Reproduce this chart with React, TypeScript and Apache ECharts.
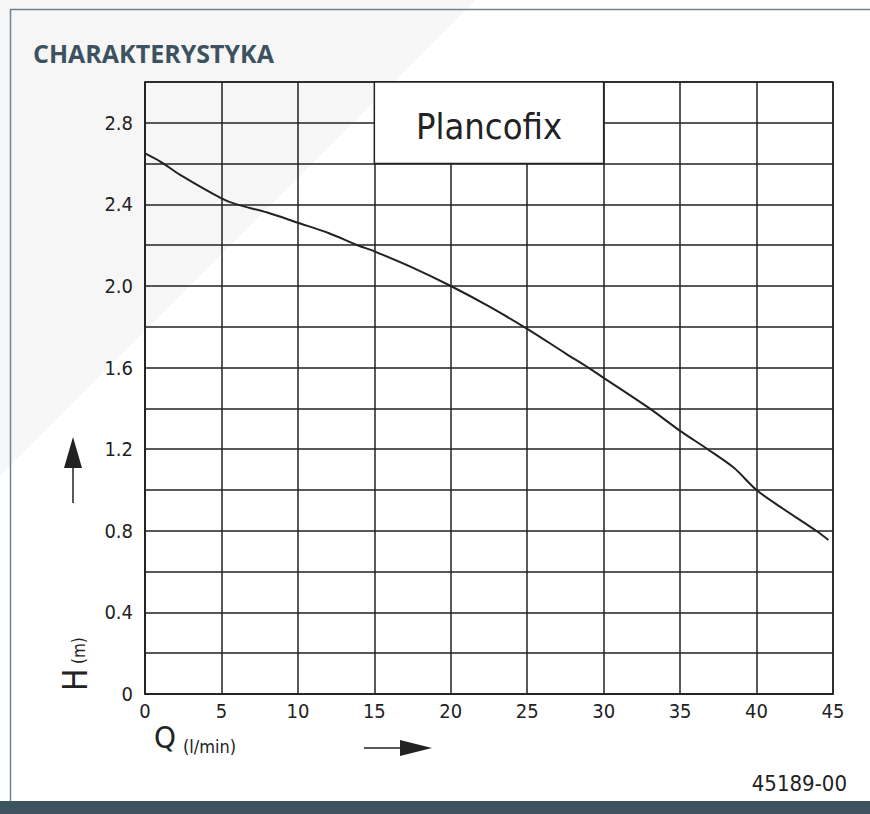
import React, { useEffect, useRef } from "react";
import * as echarts from "echarts";

// Pump curve (Q in l/min, H in m)
const flowQ = [0, 1, 2.3, 5, 6, 8, 10, 12, 13.9, 15, 17.5, 20, 22.5, 25, 27.5, 29, 30, 33, 35, 36.8, 38.5, 40, 41.5, 43.9, 44.7];
const headH = [2.65, 2.61, 2.545, 2.43, 2.4, 2.36, 2.31, 2.26, 2.2, 2.17, 2.09, 2.0, 1.9, 1.79, 1.67, 1.6, 1.55, 1.4, 1.29, 1.2, 1.11, 1.0, 0.92, 0.8, 0.755];

// Axis ranges
const xRange = [0, 45, 5];
const yRange = [0, 3.0, 0.2];
const yLabelStep = 0.4;

// Label box ("Plancofix") corners in data units
const boxFrom = [15, 3.0];
const boxTo = [30, 2.6];

const titleText = "CHARAKTERYSTYKA";
const seriesName = "Plancofix";
const codeText = "45189-00";

const TECH = "'Liberation Sans Narrow', 'DejaVu Sans Condensed', 'DejaVu Sans', sans-serif";
const INK = "#222222";

export default function App() {
  const ref = useRef<HTMLDivElement>(null);
  useEffect(() => {
    document.body.style.margin = "0";
    const chart = echarts.init(ref.current!, undefined, { renderer: "svg" });
    const data = flowQ.map((q, i) => [q, headH[i]]);
    chart.setOption({
      animation: false,
      backgroundColor: "transparent",
      grid: {
        left: 145,
        right: 37,
        top: 82,
        bottom: 120,
        show: true,
        borderColor: INK,
        borderWidth: 1.5,
      },
      xAxis: {
        type: "value",
        min: xRange[0],
        max: xRange[1],
        interval: xRange[2],
        axisLine: { show: true, lineStyle: { color: INK, width: 1.5 } },
        axisTick: { show: false },
        splitLine: { show: true, lineStyle: { color: INK, width: 1.5 } },
        axisLabel: { color: INK, fontSize: 20, fontFamily: TECH, margin: 7 },
      },
      yAxis: {
        type: "value",
        min: yRange[0],
        max: yRange[1],
        interval: yRange[2],
        axisLine: { show: true, lineStyle: { color: INK, width: 1.5 } },
        axisTick: { show: false },
        splitLine: { show: true, lineStyle: { color: INK, width: 1.5 } },
        axisLabel: {
          color: INK,
          fontSize: 20,
          fontFamily: TECH,
          margin: 12,
          formatter: (v: number) => {
            const r = v / yLabelStep;
            if (Math.abs(r - Math.round(r)) > 1e-6) return "";
            return v === 0 ? "0" : v.toFixed(1);
          },
        },
      },
      series: [
        {
          type: "line",
          name: seriesName,
          data,
          smooth: 0.3,
          showSymbol: false,
          lineStyle: { color: INK, width: 2 },
          markArea: {
            silent: true,
            itemStyle: { color: "#ffffff", borderColor: INK, borderWidth: 1.5, opacity: 1 },
            label: {
              show: true,
              position: "inside",
              color: INK,
              fontSize: 36,
              fontFamily: TECH,
              offset: [0, 4],
            },
            data: [[{ name: seriesName, coord: boxFrom }, { coord: boxTo }]],
          },
        },
      ],
      graphic: [
        // frame lines
        { type: "line", shape: { x1: 10, y1: 9.5, x2: 870, y2: 9.5 }, style: { stroke: "#6f8391", lineWidth: 1.5 } },
        { type: "line", shape: { x1: 10.5, y1: 9, x2: 10.5, y2: 801 }, style: { stroke: "#6f8391", lineWidth: 1.5 } },
        // bottom bar
        { type: "rect", shape: { x: 0, y: 801, width: 870, height: 13 }, style: { fill: "#3d5360" } },
        // title
        {
          type: "text",
          x: 33,
          y: 53,
          style: {
            text: titleText,
            fill: "#3d5261",
            font: "bold 25px 'Open Sans', Roboto, sans-serif",
            verticalAlign: "middle",
          },
        },
        // Y axis title: H (m), rotated
        {
          type: "text",
          x: 75,
          y: 691,
          rotation: Math.PI / 2,
          style: { text: "H", fill: INK, font: `33px ${TECH}`, verticalAlign: "middle", align: "left" },
        },
        {
          type: "text",
          x: 79,
          y: 664,
          rotation: Math.PI / 2,
          style: { text: "(m)", fill: INK, font: `17px ${TECH}`, verticalAlign: "middle", align: "left" },
        },
        // up arrow
        { type: "line", shape: { x1: 73, y1: 503, x2: 73, y2: 462 }, style: { stroke: INK, lineWidth: 1.5 } },
        { type: "polygon", shape: { points: [[73, 437], [82, 468], [64, 468]] }, style: { fill: INK } },
        // X axis title: Q (l/min)
        {
          type: "text",
          x: 154,
          y: 737,
          style: { text: "Q", fill: INK, font: `31px ${TECH}`, verticalAlign: "middle" },
        },
        {
          type: "text",
          x: 183,
          y: 746,
          style: { text: "(l/min)", fill: INK, font: `18px ${TECH}`, verticalAlign: "middle" },
        },
        // right arrow
        { type: "line", shape: { x1: 364, y1: 748, x2: 405, y2: 748 }, style: { stroke: INK, lineWidth: 1.5 } },
        { type: "polygon", shape: { points: [[432, 748], [400, 740], [400, 756]] }, style: { fill: INK } },
        // drawing code
        {
          type: "text",
          x: 847,
          y: 783,
          style: { text: codeText, fill: INK, font: `22px ${TECH}`, verticalAlign: "middle", align: "right" },
        },
      ],
    });
    return () => chart.dispose();
  }, []);
  return (
    <div
      ref={ref}
      style={{
        position: "absolute",
        left: 0,
        top: 0,
        width: 870,
        height: 814,
        background: "linear-gradient(135deg, #f6f6f6 0px, #f6f6f6 336px, #ffffff 336px)",
      }}
    />
  );
}
